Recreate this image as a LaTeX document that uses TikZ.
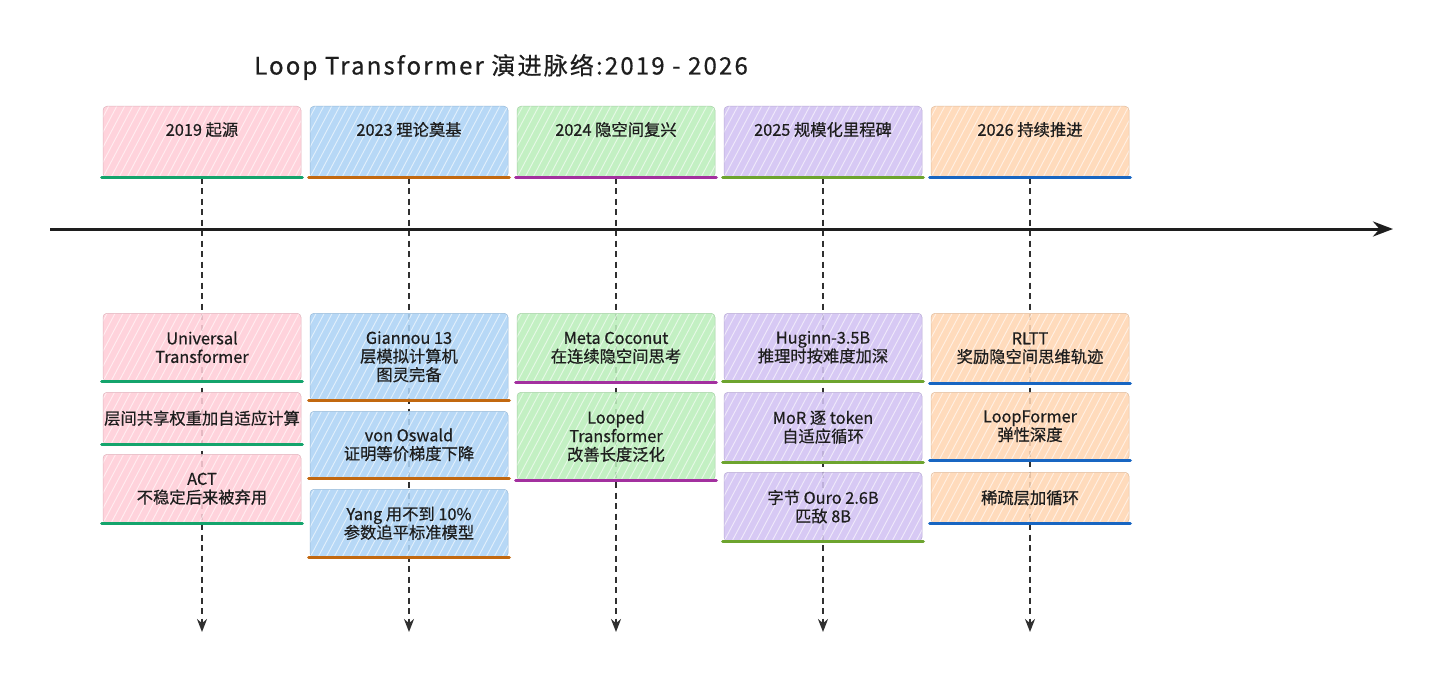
\documentclass[tikz,border=0pt]{standalone}
\usepackage{fontspec}
\setmainfont{Noto Sans CJK SC}
\newfontfamily\cardfont{Noto Sans CJK SC}[FakeBold=0.6]
\newfontfamily\titlefont{Noto Sans CJK SC}[FakeBold=0.6, LetterSpace=9]
\usetikzlibrary{arrows.meta}
\definecolor{ink}{HTML}{1E1E1E}
\definecolor{pinkF}{HTML}{FFCDD7}
\definecolor{blueF}{HTML}{ADD3F5}
\definecolor{greenF}{HTML}{BBEEBB}
\definecolor{purpleF}{HTML}{D2C2F2}
\definecolor{orangeF}{HTML}{FFD6B3}
\definecolor{barA}{HTML}{14A46C}
\definecolor{barB}{HTML}{C2680F}
\definecolor{barC}{HTML}{A3309F}
\definecolor{barD}{HTML}{6DA42F}
\definecolor{barE}{HTML}{1866C2}
\tikzset{
  hatch/.style={path picture={\foreach \k in {-12,...,30}{\draw[white,line width=0.9pt,opacity=0.6] ([xshift=\k*8pt]path picture bounding box.south west) -- ++(62:240pt);}}},
  cardbox/.style={rectangle, rounded corners=4pt, fill=#1, draw=#1!88!black, line width=0.5pt,
    fill opacity=0.88, text opacity=1, hatch, minimum width=198pt, inner sep=1pt, anchor=north,
    align=center, text=ink, font=\cardfont\fontsize{16.3}{18.5}\selectfont},
  headbox/.style={cardbox=#1, minimum height=71pt, text height=12pt, text depth=24pt},
  barline/.style={line width=3.5pt, line cap=round, draw=#1},
  timeflow/.style={dashed, dash pattern=on 6pt off 4.5pt, line width=2.4pt, draw=ink!92,
    -{Stealth[length=13pt,width=10pt]}},
  mainaxis/.style={line width=3pt, draw=ink, -{Stealth[length=20pt,width=15pt]}},
}
\begin{document}
\begin{tikzpicture}[x=1pt,y=-1pt]
\useasboundingbox (0,0) rectangle (1440,682);
% title
\node[anchor=west, text=ink, font=\titlefont\fontsize{24}{26}\selectfont, inner sep=0pt] (title) at (254,67) {Loop Transformer 演进脉络:2019 - 2026};
% headers
\node[headbox=pinkF]   (h1) at (202,106) {2019 起源};
\node[headbox=blueF]   (h2) at (409,106) {2023 理论奠基};
\node[headbox=greenF]  (h3) at (616,106) {2024 隐空间复兴};
\node[headbox=purpleF] (h4) at (823,106) {2025 规模化里程碑};
\node[headbox=orangeF] (h5) at (1030,106) {2026 持续推进};
% dashed verticals
\coordinate (e1) at (202,632);
\coordinate (e2) at (409,632);
\coordinate (e3) at (616,632);
\coordinate (e4) at (823,632);
\coordinate (e5) at (1030,632);
\foreach \i in {1,...,5}{\draw[timeflow] (h\i.south) -- (e\i);}
% main axis
\coordinate (a0) at (50,229);
\coordinate (a1) at (1393,229);
\draw[mainaxis] (a0) -- (a1);
% cards column 1
\node[cardbox=pinkF, minimum height=68pt] (c11) at (202,313) {Universal\\Transformer};
\node[cardbox=pinkF, minimum height=52pt] (c12) at (202,392) {层间共享权重加自适应计算};
\node[cardbox=pinkF, minimum height=69pt] (c13) at (202,454) {ACT\\不稳定后来被弃用};
% column 2
\node[cardbox=blueF, minimum height=87pt] (c21) at (409,313) {Giannou 13\\层模拟计算机\\图灵完备};
\node[cardbox=blueF, minimum height=67pt] (c22) at (409,411) {von Oswald\\证明等价梯度下降};
\node[cardbox=blueF, minimum height=68pt] (c23) at (409,489) {Yang 用不到 10\%\\参数追平标准模型};
% column 3
\node[cardbox=greenF, minimum height=69pt] (c31) at (616,313) {Meta Coconut\\在连续隐空间思考};
\node[cardbox=greenF, minimum height=88pt] (c32) at (616,392) {Looped\\Transformer\\改善长度泛化};
% column 4
\node[cardbox=purpleF, minimum height=68pt] (c41) at (823,313) {Huginn-3.5B\\推理时按难度加深};
\node[cardbox=purpleF, minimum height=70pt] (c42) at (823,392) {MoR 逐 token\\自适应循环};
\node[cardbox=purpleF, minimum height=69pt] (c43) at (823,472) {字节 Ouro 2.6B\\匹敌 8B};
% column 5
\node[cardbox=orangeF, minimum height=70pt] (c51) at (1030,313) {RLTT\\奖励隐空间思维轨迹};
\node[cardbox=orangeF, minimum height=68pt] (c52) at (1030,392) {LoopFormer\\弹性深度};
\node[cardbox=orangeF, minimum height=51pt] (c53) at (1030,472) {稀疏层加循环};
% bars
\foreach \n in {h1,c11,c12,c13}{\draw[barline=barA] ([xshift=-1pt]\n.south west) -- ([xshift=1pt]\n.south east);}
\foreach \n in {h2,c21,c22,c23}{\draw[barline=barB] ([xshift=-1pt]\n.south west) -- ([xshift=1pt]\n.south east);}
\foreach \n in {h3,c31,c32}{\draw[barline=barC] ([xshift=-1pt]\n.south west) -- ([xshift=1pt]\n.south east);}
\foreach \n in {h4,c41,c42,c43}{\draw[barline=barD] ([xshift=-1pt]\n.south west) -- ([xshift=1pt]\n.south east);}
\foreach \n in {h5,c51,c52,c53}{\draw[barline=barE] ([xshift=-1pt]\n.south west) -- ([xshift=1pt]\n.south east);}
\end{tikzpicture}
\end{document}
